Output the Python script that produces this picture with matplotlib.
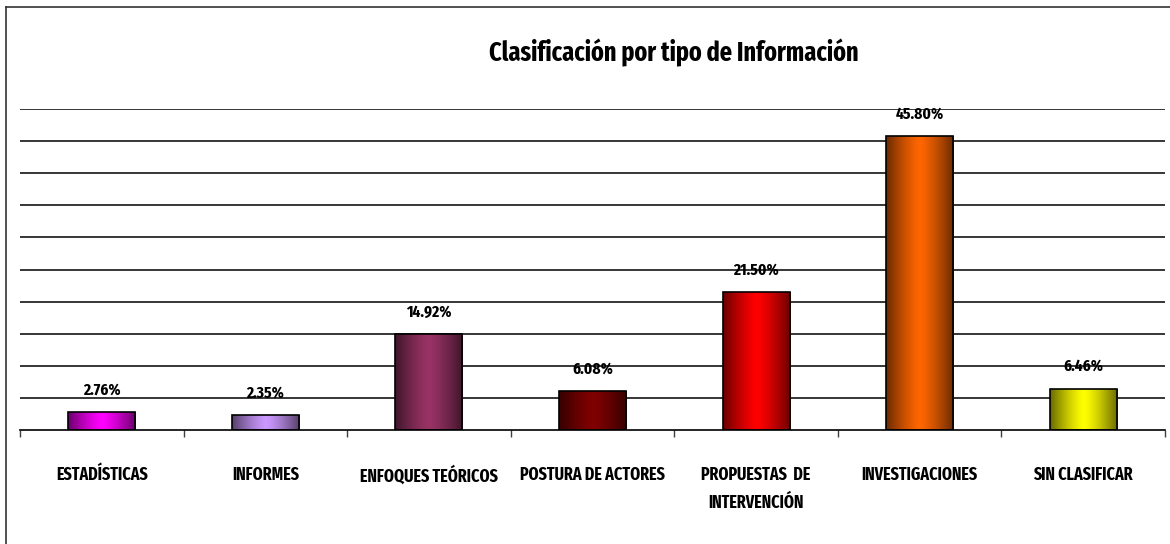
import numpy as np
import matplotlib
matplotlib.use('Agg')
import matplotlib.pyplot as plt
from matplotlib.colors import to_rgb
from matplotlib.lines import Line2D

plt.rcParams['font.family'] = ['Fira Sans Extra Condensed', 'DejaVu Sans']
plt.rcParams['font.weight'] = 'bold'

categorias = ['ESTADÍSTICAS', 'INFORMES', 'ENFOQUES TEÓRICOS', 'POSTURA DE ACTORES',
              'PROPUESTAS  DE\nINTERVENCIÓN', 'INVESTIGACIONES', 'SIN CLASIFICAR']
porcentajes = [2.76, 2.35, 14.92, 6.08, 21.50, 45.80, 6.46]
etiquetas = ['2.76%', '2.35%', '14.92%', '6.08%', '21.50%', '45.80%', '6.46%']
colores = ['#FF00FF', '#CC99FF', '#993366', '#800000', '#FF0000', '#FF6600', '#FFFF00']


def gradiente(color, n=64):
    # oscuro en los bordes, brillante en el centro
    c = np.array(to_rgb(color))
    t = np.linspace(0, 1, n)
    f = np.abs(2 * t - 1) ** 1.3
    osc = c * 0.42
    filas = (1 - f)[:, None] * c + f[:, None] * osc
    return filas[None, :, :]


fig = plt.figure(figsize=(11.7, 5.44), dpi=100)
ax = fig.add_axes([20 / 1170, 1 - 430 / 544, 1145 / 1170, 321 / 544])

x = np.arange(len(categorias))
barras = ax.bar(x, porcentajes, width=0.41, facecolor='none', edgecolor='black',
                linewidth=1.2, zorder=3)

for b, col in zip(barras, colores):
    x0, y0 = b.get_x(), b.get_y()
    img = ax.imshow(gradiente(col), extent=(x0, x0 + b.get_width(), y0, y0 + b.get_height()),
                    aspect='auto', interpolation='bilinear', zorder=2.5)
    img.set_clip_path(b)

for b, txt in zip(barras, etiquetas):
    ax.annotate(txt, (b.get_x() + b.get_width() / 2, b.get_height()),
                xytext=(0, 16), textcoords='offset points', ha='center', va='center',
                fontsize=12, fontweight='bold')

ax.set_xlim(-0.5, len(categorias) - 0.5)
ax.set_ylim(0, 50)
ax.set_yticks(np.arange(5, 51, 5))
ax.yaxis.grid(True, color='black', linewidth=1.1, zorder=0)
ax.set_axisbelow(True)
ax.tick_params(axis='y', length=0, labelleft=False)

ax.set_xticks(x)
ax.set_xticklabels(categorias, fontsize=12.5, fontweight='bold', linespacing=1.75)
ax.set_xticks(np.arange(-0.5, len(categorias), 1), minor=True)
ax.tick_params(axis='x', which='major', length=0, pad=26)
ax.tick_params(axis='x', which='minor', length=5, width=1, color='#404040')

for s in ['left', 'right', 'top']:
    ax.spines[s].set_visible(False)
ax.spines['bottom'].set_linewidth(1.2)

fig.text(0.576, 1 - 53 / 544, 'Clasificación por tipo de Información', ha='center',
         va='center', fontsize=19, fontweight='bold')

# marco del gráfico (solo se ven el borde izquierdo y superior)
fig.add_artist(Line2D([6 / 1170, 6 / 1170], [0, 1 - 7 / 544], color='#333333', linewidth=1.2))
fig.add_artist(Line2D([6 / 1170, 1], [1 - 7 / 544, 1 - 7 / 544], color='#333333', linewidth=1.2))

fig.savefig('out.png', dpi=100)
